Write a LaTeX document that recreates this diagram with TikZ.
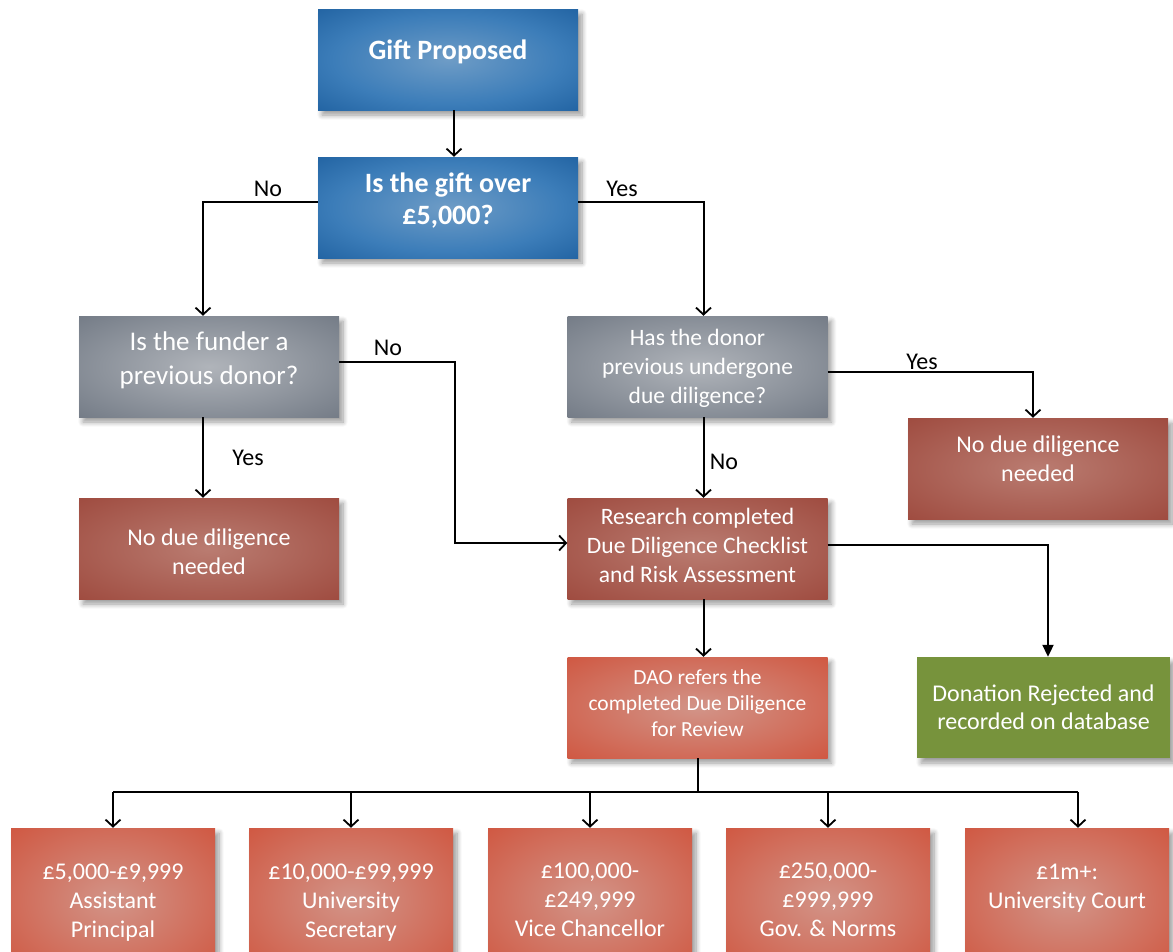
\documentclass[tikz,border=0pt]{standalone}
\usepackage{fontspec}
\setmainfont{Carlito}
\usetikzlibrary{arrows.meta,shadows.blur,calc}
\definecolor{bluein}{RGB}{110,156,198}
\definecolor{bluemid}{RGB}{60,125,185}
\definecolor{blueout}{RGB}{8,74,140}
\definecolor{greyin}{RGB}{176,180,186}
\definecolor{greyout}{RGB}{92,101,114}
\definecolor{brownin}{RGB}{186,124,113}
\definecolor{brownout}{RGB}{148,56,44}
\definecolor{redin}{RGB}{210,148,136}
\definecolor{redout}{RGB}{207,64,38}
\definecolor{greenfill}{RGB}{119,147,60}
\pgfdeclareradialshading{blueshade}{\pgfpoint{0bp}{0bp}}{color(0bp)=(bluein); color(22bp)=(bluemid); color(50bp)=(blueout)}
\pgfdeclareradialshading{greyshade}{\pgfpoint{0bp}{0bp}}{color(0bp)=(greyin); color(50bp)=(greyout)}
\pgfdeclareradialshading{brownshade}{\pgfpoint{0bp}{0bp}}{color(0bp)=(brownin); color(50bp)=(brownout)}
\pgfdeclareradialshading{redshade}{\pgfpoint{0bp}{0bp}}{color(0bp)=(redin); color(50bp)=(redout)}
\tikzset{
  box/.style={minimum height=101pt, inner sep=0pt,
    blur shadow={shadow xshift=4pt, shadow yshift=-5pt, shadow blur steps=8, shadow opacity=40, shadow blur radius=5pt}},
  wide/.style={box, minimum width=260pt},
  blueb/.style={wide, shading=blueshade},
  greyb/.style={wide, shading=greyshade},
  brownb/.style={wide, shading=brownshade},
  redb/.style={box, shading=redshade},
  greenb/.style={box, fill=greenfill, minimum width=253pt},
  bottomb/.style={redb, minimum width=204pt, minimum height=144pt},
  txt/.style={inner sep=0pt, align=center, text=white, font=\fontsize{24}{28.5}\selectfont},
  bold/.style={txt, font=\fontsize{28}{32}\selectfont\bfseries},
  lbl/.style={font=\fontsize{24}{28}\selectfont, inner sep=0pt},
  arr/.style={line width=2pt, -{Straight Barb[length=7pt,width=15pt,line width=1.8pt]}},
  tri/.style={line width=2pt, -{Triangle[length=12pt,width=11pt]}},
  ln/.style={line width=2pt}
}
\begin{document}
\begin{tikzpicture}[x=1pt,y=-1pt]
\useasboundingbox (0,0) rectangle (1173,951);
\clip (0,0) rectangle (1173,951);
% boxes
\node[blueb] (gp) at (448,59.5) {};
\node[blueb] (q1) at (448,207.5) {};
\node[greyb] (q2) at (209,366.5) {};
\node[greyb] (q3) at (697.5,366.5) {};
\node[brownb] (ndd2) at (1038,468.5) {};
\node[brownb] (ndd1) at (209,548.5) {};
\node[brownb] (res) at (697.5,548.5) {};
\node[redb, minimum width=260pt] (dao) at (697.5,707.5) {};
\node[greenb] (rej) at (1043.5,707.5) {};
\node[bottomb] (b1) at (113,900) {};
\node[bottomb] (b2) at (351,900) {};
\node[bottomb] (b3) at (590,900) {};
\node[bottomb] (b4) at (828,900) {};
\node[bottomb] (b5) at (1067,900) {};
% texts
\node[bold] (gpt) at ([yshift=8pt]gp.center) {Gift Proposed};
\node[bold] (q1t) at ([yshift=7pt]q1.center) {Is the gift over\\£5,000?};
\node[txt, font=\fontsize{27}{34}\selectfont] (q2t) at ([yshift=6pt]q2.center) {Is the funder a\\previous donor?};
\node[txt, font=\fontsize{23.5}{29}\selectfont] (q3t) at ([yshift=-2pt]q3.center) {Has the donor\\previous undergone\\due diligence?};
\node[txt] (ndd2t) at ([yshift=10pt]ndd2.center) {No due diligence\\needed};
\node[txt] (ndd1t) at ([yshift=-3pt]ndd1.center) {No due diligence\\needed};
\node[txt, font=\fontsize{23.5}{29}\selectfont] (rest) at ([yshift=3pt]res.center) {Research completed\\Due Diligence Checklist\\and Risk Assessment};
\node[txt, font=\fontsize{21.5}{26}\selectfont] (daot) at ([yshift=4pt]dao.center) {DAO refers the\\completed Due Diligence\\for Review};
\node[txt, font=\fontsize{24}{28}\selectfont] (rejt) at (rej.center) {Donation Rejected and\\recorded on database};
\node[txt, font=\fontsize{24}{29}\selectfont] (b1t) at ([yshift=-3pt]b1.center) {£5,000-£9,999\\Assistant\\Principal};
\node[txt, font=\fontsize{24}{29}\selectfont] (b2t) at ([yshift=-3pt]b2.center) {£10,000-£99,999\\University\\Secretary};
\node[txt, font=\fontsize{24}{29}\selectfont] (b3t) at ([yshift=0pt]b3.center) {£100,000-\\£249,999\\Vice Chancellor};
\node[txt, font=\fontsize{24}{29}\selectfont] (b4t) at ([yshift=0pt]b4.center) {£250,000-\\£999,999\\Gov. \& Norms};
\node[txt, font=\fontsize{24}{29}\selectfont] (b5t) at ([yshift=11.5pt]b5.center) {£1m+:\\University Court};
% connectors
\draw[arr] ([xshift=6pt]gp.south) -- ([xshift=6pt]q1.north);
\draw[arr] ([yshift=5.5pt]q1.west) -| ([xshift=-6pt]q2.north);
\draw[arr] ([yshift=5.5pt]q1.east) -| ([xshift=6pt]q3.north);
\draw[arr] ([yshift=4.5pt]q2.east) -- ++(116,0) |- ([yshift=5.5pt]res.west);
\draw[arr] ([xshift=-6pt]q2.south) -- ([xshift=-6pt]ndd1.north);
\draw[arr] ([yshift=-5.5pt]q3.east) -| ([xshift=-5pt]ndd2.north);
\draw[arr] ([xshift=6pt]q3.south) -- ([xshift=6pt]res.north);
\draw[arr] ([xshift=6pt]res.south) -- ([xshift=6pt]dao.north);
\draw[tri] ([yshift=3.5pt]res.east) -| ([xshift=4.5pt]rej.north);
\coordinate (bus) at (697.5,792);
\coordinate (b5in) at ([xshift=11pt]b5.north);
\draw[ln] (dao.south) -- (bus);
\draw[ln] (b1.north |- bus) -- (b5in |- bus);
\foreach \b in {b1,b2,b3,b4,b5in}{\draw[arr] (\b |- bus) -- (\b);}
% labels
\node[lbl] (l1) at (268,189) {No};
\node[lbl] (l2) at (622,189) {Yes};
\node[lbl] (l3) at (388,348) {No};
\node[lbl] (l4) at (248,458) {Yes};
\node[lbl] (l5) at (922,362) {Yes};
\node[lbl] (l6) at (724,462) {No};
\end{tikzpicture}
\end{document}
